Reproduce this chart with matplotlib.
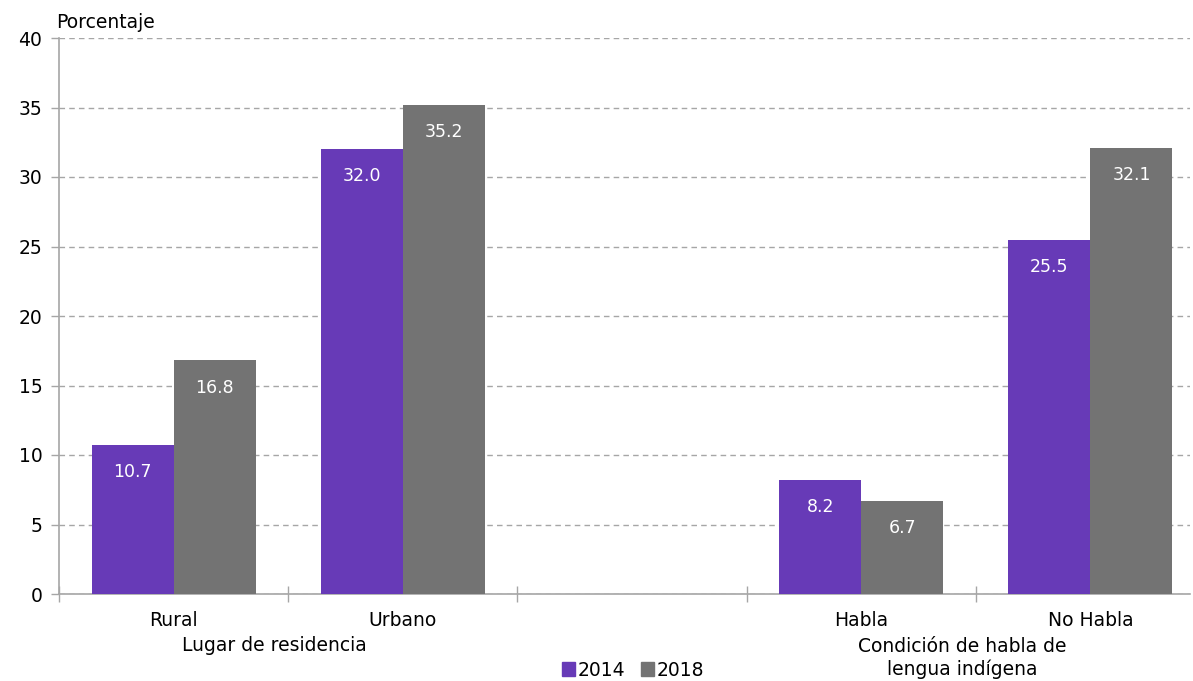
import matplotlib
matplotlib.use("Agg")
import matplotlib.pyplot as plt
import numpy as np
from matplotlib.patches import Patch

plt.rcParams['font.family'] = ['DejaVu Sans']

categories = ["Rural", "Urbano", "", "Habla", "No Habla"]
values_2014 = [10.7, 32.0, None, 8.2, 25.5]
values_2018 = [16.8, 35.2, None, 6.7, 32.1]
series_names = ["2014", "2018"]
group_labels = ["Lugar de residencia", "Condición de habla de\nlengua indígena"]
yticks = [0, 5, 10, 15, 20, 25, 30, 35, 40]

c14 = "#673AB7"
c18 = "#737373"
fs = 13.5

W, H = 1193, 681
fig = plt.figure(figsize=(W/100, H/100), dpi=100)
ax = fig.add_axes([59/W, (H-594)/H, (1190-59)/W, (594-38)/H])

x = np.arange(len(categories))
bw = 0.358
for i, (a, b) in enumerate(zip(values_2014, values_2018)):
    if a is None:
        continue
    ax.bar(x[i]-bw/2, a, bw, color=c14, zorder=3)
    ax.bar(x[i]+bw/2, b, bw, color=c18, zorder=3)
    ax.text(x[i]-bw/2, a-1.95, f"{a:.1f}", ha="center", va="center", color="white", fontsize=12.5, zorder=4)
    ax.text(x[i]+bw/2, b-1.95, f"{b:.1f}", ha="center", va="center", color="white", fontsize=12.5, zorder=4)

ax.set_ylim(0, 40)
ax.set_xlim(-0.5, 4.5 - 15/229)
ax.set_yticks(yticks)
ax.set_yticklabels([str(t) for t in yticks], fontsize=fs)
ax.yaxis.grid(True, linestyle=(0, (4, 3)), color="#A6A6A6", linewidth=1, zorder=0)
ax.set_axisbelow(True)

ax.set_xticks(np.arange(-0.5, 4.5, 1.0))
ax.set_xticklabels([])
ax.tick_params(axis="x", direction="inout", length=12, color="#A6A6A6", width=1)
ax.tick_params(axis="y", direction="out", length=6, color="#A6A6A6", width=1, pad=6)
for s in ["top", "right"]:
    ax.spines[s].set_visible(False)
for s in ["left", "bottom"]:
    ax.spines[s].set_color("#A6A6A6")
    ax.spines[s].set_linewidth(1.2)

trans = ax.get_xaxis_transform()
for i, c in enumerate(categories):
    if c:
        ax.text(x[i], -0.047, c, transform=trans, ha="center", va="center", fontsize=fs)
ax.text(0.44, -0.093, group_labels[0], transform=trans, ha="center", va="center", fontsize=fs)
ax.text(3.44, -0.115, group_labels[1], transform=trans, ha="center", va="center", fontsize=fs, linespacing=1.2)

fig.text(56/W, 1-22/H, "Porcentaje", ha="left", va="center", fontsize=fs)

handles = [Patch(color=c14, label=series_names[0]), Patch(color=c18, label=series_names[1])]
fig.legend(handles=handles, loc="center", bbox_to_anchor=(633/W, 1-670/H), ncol=2, frameon=False,
           fontsize=fs, handlelength=0.7, handleheight=0.7, handletextpad=0.15, columnspacing=0.8,
           borderpad=0.1)

fig.savefig("out.png", dpi=100)
